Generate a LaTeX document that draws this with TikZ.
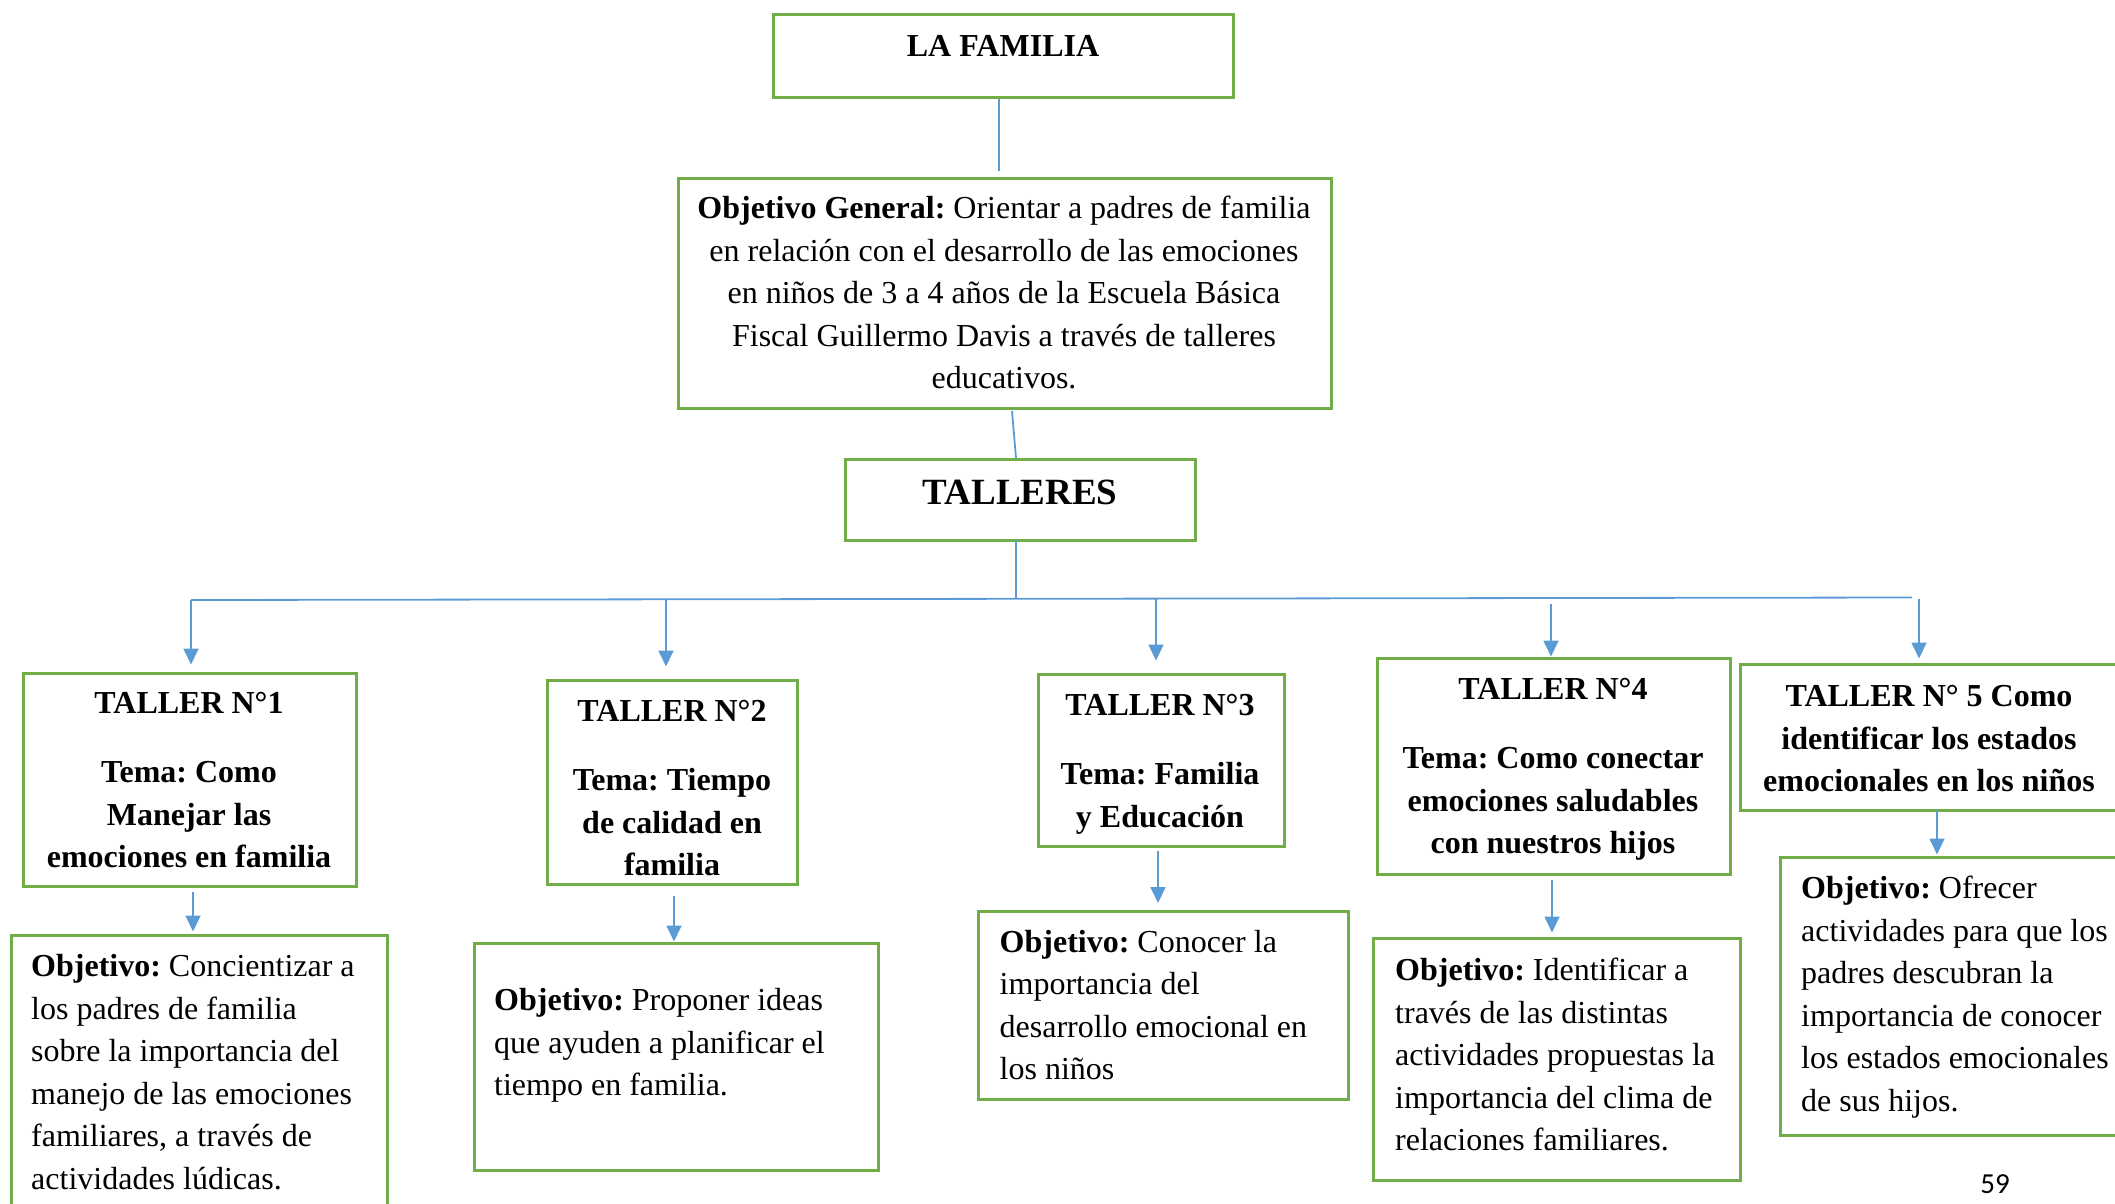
\documentclass[tikz,border=0pt]{standalone}
\usepackage{fontspec}
\setmainfont{Liberation Serif}
\newfontfamily\pagefont{Carlito}
\usetikzlibrary{arrows.meta}
\definecolor{boxgreen}{HTML}{70AD47}
\definecolor{linkblue}{HTML}{5B9BD5}
\frenchspacing
\begin{document}
\begin{tikzpicture}[x=1pt,y=-1pt,
  box/.style={draw=boxgreen,line width=3pt,inner sep=0pt,fill=none},
  txt/.style={inner sep=0pt,font=\fontsize{32}{42.5}\selectfont},
  ttl/.style={txt,font=\fontsize{32}{42.5}\selectfont\bfseries,align=center,anchor=north},
  otxt/.style={txt,align=left,anchor=north west},
  conn/.style={draw=linkblue,line width=1.8pt},
  arr/.style={conn,-{Triangle[length=16pt,width=15pt]}}]
\path[use as bounding box] (0,0) rectangle (2115,1204);
\clip (0,0) rectangle (2115,1204);

% boxes
\node[box,minimum width=460pt,minimum height=83pt] (fam) at (1003,56.5) {};
\node[box,minimum width=653pt,minimum height=230pt] (gen) at (1004.5,293) {};
\node[box,minimum width=350pt,minimum height=81pt] (tal) at (1020,499.5) {};
\node[box,minimum width=333pt,minimum height=213pt] (t1) at (189.5,779.5) {};
\node[box,minimum width=250pt,minimum height=204pt] (t2) at (672,782) {};
\node[box,minimum width=246pt,minimum height=172pt] (t3) at (1161,760) {};
\node[box,minimum width=353pt,minimum height=216pt] (t4) at (1553.5,766) {};
\node[box,minimum width=385pt,minimum height=146pt] (t5) at (1932.5,737) {};
\node[box,minimum width=376pt,minimum height=285pt] (o1) at (199,1077.5) {};
\node[box,minimum width=404pt,minimum height=227pt] (o2) at (676,1056.5) {};
\node[box,minimum width=370pt,minimum height=187.5pt] (o3) at (1163,1005.25) {};
\node[box,minimum width=367pt,minimum height=242pt] (o4) at (1556.5,1059) {};
\node[box,minimum width=345pt,minimum height=278pt] (o5) at (1952.5,996) {};

% texts
\node[txt,font=\fontsize{32}{42.5}\selectfont\bfseries,anchor=base] (famtxt) at (1003,56.6) {LA FAMILIA};
\node[txt,anchor=north,align=center] (gentxt) at (1004,189) {\strut\textbf{Objetivo General:} Orientar a padres de familia\\ en relación con el desarrollo de las emociones\\ en niños de 3 a 4 años de la Escuela Básica\\ Fiscal Guillermo Davis a través de talleres\\ educativos.};
\node[txt,font=\fontsize{37}{44}\selectfont\bfseries,anchor=base] (taltxt) at (1020,504) {TALLERES};
\node[ttl] (t1txt) at (189,684) {\strut TALLER N°1\\[26.5pt] Tema: Como\\ Manejar las\\ emociones en familia};
\node[ttl] (t2txt) at (672,692) {\strut TALLER N°2\\[26.5pt] Tema: Tiempo\\ de calidad en\\ familia};
\node[ttl] (t3txt) at (1160,686) {\strut TALLER N°3\\[26.5pt] Tema: Familia\\ y Educación};
\node[ttl] (t4txt) at (1553,670) {\strut TALLER N°4\\[26.5pt] Tema: Como conectar\\ emociones saludables\\ con nuestros hijos};
\node[ttl] (t5txt) at (1929,677) {\strut TALLER N° 5 Como\\ identificar los estados\\ emocionales en los niños};
\node[otxt] (o1txt) at (31,947) {\strut\textbf{Objetivo:} Concientizar a\\ los padres de familia\\ sobre la importancia del\\ manejo de las emociones\\ familiares, a través de\\ actividades lúdicas.};
\node[otxt] (o2txt) at (494,981) {\strut\textbf{Objetivo:} Proponer ideas\\ que ayuden a planificar el\\ tiempo en familia.};
\node[otxt] (o3txt) at (999.5,922.5) {\strut\textbf{Objetivo:} Conocer la\\ importancia del\\ desarrollo emocional en\\ los niños};
\node[otxt] (o4txt) at (1395,951) {\strut\textbf{Objetivo:} Identificar a\\ través de las distintas\\ actividades propuestas la\\ importancia del clima de\\ relaciones familiares.};
\node[otxt] (o5txt) at (1801,868.6) {\strut\textbf{Objetivo:} Ofrecer\\ actividades para que los\\ padres descubran la\\ importancia de conocer\\ los estados emocionales\\ de sus hijos.};
\node[inner sep=0pt,font=\pagefont\fontsize{29}{34}\selectfont,anchor=base] (page) at (1995,1193) {59};

% connectors
\coordinate (f1) at (999,99);
\coordinate (f2) at (999,171);
\coordinate (g1) at (1012,411);
\coordinate (g2) at (1016,458);
\coordinate (k1) at (1016,540);
\coordinate (k2) at (1016,598.5);
\coordinate (hl) at (191,600);
\coordinate (hr) at (1912,597.5);
\coordinate (a1) at (191,600);
\coordinate (a2) at (666,599.5);
\coordinate (a3) at (1156,598.5);
\coordinate (a4) at (1551,604);
\coordinate (a5) at (1919,599);
\coordinate (b1) at (193,892);
\coordinate (b2) at (674,896);
\coordinate (b3) at (1158,851);
\coordinate (b4) at (1552,880);
\coordinate (b5) at (1937,810);

\draw[conn] (f1) -- (f2);
\draw[conn] (g1) -- (g2);
\draw[conn] (k1) -- (k2);
\draw[conn] (hl) -- (hr);
\draw[arr,shorten >=7pt] (a1) -- (a1 |- t1.north);
\draw[arr,shorten >=12pt] (a2) -- (a2 |- t2.north);
\draw[arr,shorten >=12pt] (a3) -- (a3 |- t3.north);
\draw[arr,shorten >=0pt] (a4) -- (a4 |- t4.north);
\draw[arr,shorten >=4pt] (a5) -- (a5 |- t5.north);
\draw[arr,shorten >=2pt] (b1) -- (b1 |- o1.north);
\draw[arr,shorten >=0pt] (b2) -- (b2 |- o2.north);
\draw[arr,shorten >=7pt] (b3) -- (b3 |- o3.north);
\draw[arr,shorten >=4pt] (b4) -- (b4 |- o4.north);
\draw[arr,shorten >=1pt] (b5) -- (b5 |- o5.north);
\end{tikzpicture}
\end{document}
